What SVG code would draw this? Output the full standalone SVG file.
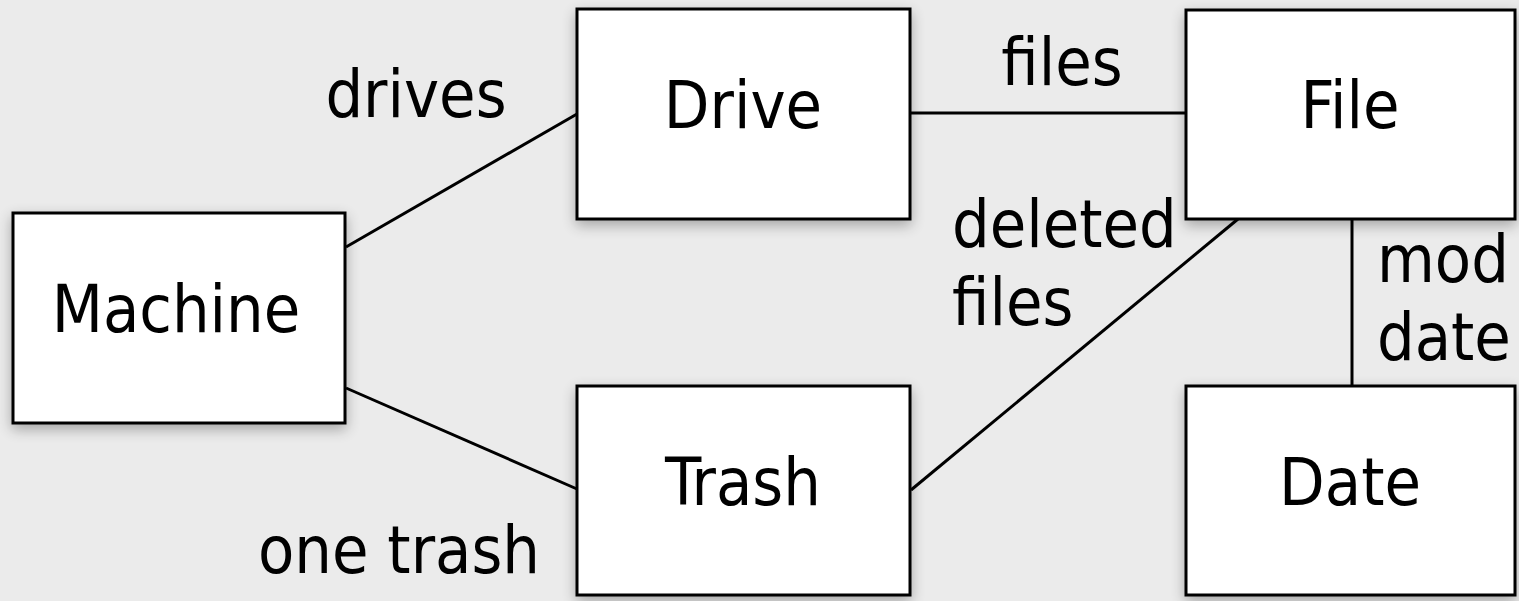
<svg xmlns="http://www.w3.org/2000/svg" width="1519" height="601" viewBox="0 0 1519 601">
  <defs>
    <filter id="shadow" x="-20%" y="-20%" width="140%" height="150%">
      <feGaussianBlur in="SourceAlpha" stdDeviation="7"/>
      <feOffset dx="0" dy="5" result="b"/>
      <feComponentTransfer><feFuncA type="linear" slope="0.3"/></feComponentTransfer>
      <feMerge><feMergeNode/><feMergeNode in="SourceGraphic"/></feMerge>
    </filter>
  </defs>
  <style>
    .box { fill: #ffffff; stroke: #000000; stroke-width: 3; filter: url(#shadow); }
    .t { font-family: "DejaVu Sans Condensed", "DejaVu Sans", sans-serif; font-stretch: condensed; font-size: 66px; fill: #000000; }
    .c { text-anchor: middle; }
    .edge { stroke: #000000; stroke-width: 3; fill: none; }
  </style>
  <rect x="0" y="0" width="1519" height="601" fill="#ebebeb"/>

  <g id="connectors">
    <line class="edge" x1="346" y1="247" x2="577" y2="114"/>
    <line class="edge" x1="346" y1="388" x2="577" y2="489"/>
    <line class="edge" x1="910" y1="113" x2="1186" y2="113"/>
    <line class="edge" x1="911" y1="490" x2="1238" y2="219"/>
    <line class="edge" x1="1352" y1="219" x2="1352" y2="386"/>
    <text class="t c" x="416" y="117">drives</text>
    <text class="t c" x="399" y="573">one trash</text>
    <text class="t c" x="1062" y="85">files</text>
    <text class="t" x="952" y="247">deleted</text>
    <text class="t" x="952" y="325">files</text>
    <text class="t" x="1377" y="282">mod</text>
    <text class="t" x="1377" y="360">date</text>
  </g>

  <g id="node-machine">
    <rect class="box" x="13" y="213" width="332" height="210"/>
    <text class="t c" x="176" y="332">Machine</text>
  </g>
  <g id="node-drive">
    <rect class="box" x="577" y="9" width="333" height="210"/>
    <text class="t c" x="743" y="128">Drive</text>
  </g>
  <g id="node-file">
    <rect class="box" x="1186" y="10" width="329" height="209"/>
    <text class="t c" x="1350" y="128">File</text>
  </g>
  <g id="node-trash">
    <rect class="box" x="577" y="386" width="333" height="209"/>
    <text class="t c" x="743" y="505">Trash</text>
  </g>
  <g id="node-date">
    <rect class="box" x="1186" y="386" width="329" height="209"/>
    <text class="t c" x="1350" y="505">Date</text>
  </g>
</svg>
